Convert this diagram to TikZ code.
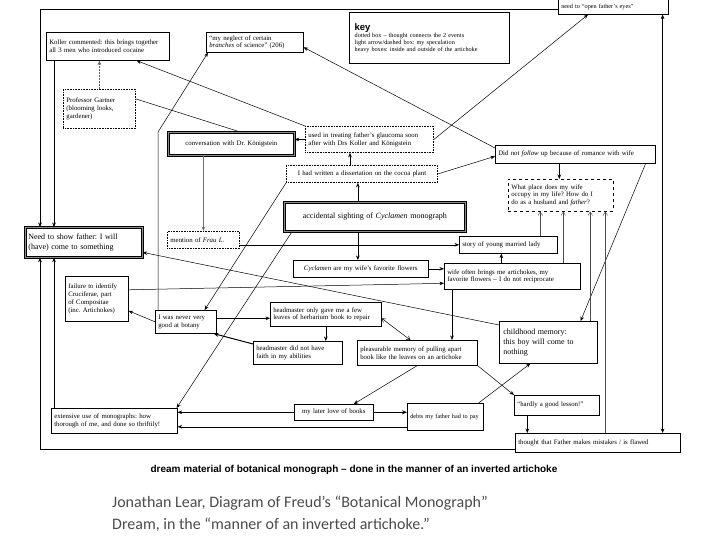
\documentclass[tikz,border=0pt]{standalone}
\usepackage{fontspec}
\setmainfont{Liberation Serif}
\newfontfamily\capfont{Carlito}
\newfontfamily\hsans{Liberation Sans}
\usetikzlibrary{arrows.meta}
\newcommand\fsm{\fontsize{6.8}{7.8}\selectfont}
\newcommand\fsn{\fontsize{6.2}{7.2}\selectfont}
\newcommand\fmd{\fontsize{8}{10}\selectfont}
\frenchspacing
\begin{document}
\begin{tikzpicture}[x=1pt,y=-1pt,
  bx/.style={draw, line width=0.6pt, inner xsep=3pt, inner ysep=1pt, anchor=north west, align=left, font=\fsm, text=black},
  dot/.style={bx, densely dotted, line width=0.9pt},
  dsh/.style={bx, dashed, line width=0.6pt},
  heavy/.style={bx, line width=0.7pt, double=black!45, double distance=1.3pt, align=center},
  sz/.style n args={3}{minimum width=#1pt, minimum height=#2pt, text width=#3pt},
  arr/.style={line width=0.5pt, -{Stealth[length=4.5pt,width=3.6pt]}},
  arrb/.style={line width=0.5pt, {Stealth[length=4.5pt,width=3.6pt]}-{Stealth[length=4.5pt,width=3.6pt]}},
  harr/.style={line width=1pt, -{Stealth[length=5pt,width=4pt]}},
  garr/.style={arr, draw=black!55},
  darr/.style={arr, densely dotted, draw=black!60},
  larr/.style={line width=0.4pt, draw=black!70, -{Straight Barb[length=3.5pt,width=4.5pt]}},
  larrb/.style={line width=0.5pt, {Straight Barb[length=3.5pt,width=4.5pt]}-{Straight Barb[length=3.5pt,width=4.5pt]}},
  plain/.style={line width=0.5pt}
]
\fill[white] (0,0) rectangle (720,540);
\useasboundingbox (0,0) rectangle (720,540);

% boxes
\node[bx, sz={110}{15}{104}, font=\fsn] (openEyes) at (558,-1) {need to “open father’s eyes”};
\node[bx, line width=1.3pt, sz={160}{51}{150}, inner xsep=5pt, font=\fsn] (key) at (349,12)
  {{\hsans\bfseries\fontsize{9.5}{11.5}\selectfont key}\\dotted box – thought connects the 2 events\\light arrow/dashed box: my speculation\\heavy boxes: inside and outside of the artichoke};
\node[bx, sz={123}{28}{117}] (koller) at (46,32) {Koller commented: this brings together\\all 3 men who introduced cocaine};
\node[bx, sz={97}{20}{91}] (neglect) at (206,32) {“my neglect of certain\\\textit{branches} of science” (206)};
\node[dot, sz={72}{39}{66}] (gartner) at (63,89) {Professor Gartner\\(blooming looks,\\gardener)};
\node[heavy, sz={126}{23}{120}] (konig) at (168,132) {conversation with Dr. Königstein};
\node[dot, sz={128}{26}{122}] (glaucoma) at (305,126) {used in treating father’s glaucoma soon\\after with Drs Koller and Königstein};
\node[dot, sz={151}{17}{145}, align=center] (dissert) at (286,165) {I had written a dissertation on the cocoa plant};
\node[heavy, sz={181}{29}{175}, font=\fmd] (accidental) at (284,202) {accidental sighting of \textit{Cyclamen} monograph};
\node[bx, sz={160}{18}{154}] (didnot) at (495,145) {Did not \textit{follow} up because of romance with wife};
\node[dsh, sz={105}{32}{99}] (whatplace) at (508,179) {What place does my wife\\occupy in my life? How do I\\do as a husband and \textit{father}?};
\node[heavy, sz={117}{30}{111}, align=left, font=\fmd] (needshow) at (25,227) {Need to show father: I will\\(have) come to something};
\node[dot, sz={72}{17}{66}] (frau) at (167,231) {mention of \textit{Frau L.}};
\node[bx, sz={98}{17}{92}] (story) at (459,236) {story of young married lady};
\node[bx, sz={135}{17}{129}, align=center] (cyclamen) at (293,260) {\textit{Cyclamen} are my wife’s favorite flowers};
\node[bx, sz={136}{26}{130}] (wifeoften) at (444,263) {wife often brings me artichokes, my\\favorite flowers – I do not reciprocate};
\node[bx, sz={63}{45}{57}] (failure) at (65,276) {failure to identify\\Cruciferae, part\\of Compositae\\(inc. Artichokes)};
\node[bx, sz={61}{23}{55}] (never) at (155,310) {I was never very\\good at botany};
\node[bx, sz={111}{24}{105}] (hmonly) at (270,302) {headmaster only gave me a few\\leaves of herbarium book to repair};
\node[bx, sz={89}{23}{83}] (hmnot) at (253,341) {headmaster did not have\\faith in my abilities};
\node[bx, sz={120}{25}{114}] (pleasur) at (357,340) {pleasurable memory of pulling apart\\book like the leaves on an artichoke};
\node[bx, sz={98}{42}{90}, inner xsep=4pt, font=\fmd] (childhood) at (499,321) {childhood memory:\\this boy will come to\\nothing};
\node[bx, sz={85}{20}{79}] (hardly) at (514,395) {“hardly a good lesson!”};
\node[bx, sz={165}{19}{159}] (thought) at (515,433) {thought that Father makes mistakes / is flawed};
\node[bx, sz={76}{27}{70}, font=\fsn] (debts) at (407,403) {debts my father had to pay};
\node[bx, sz={79}{16}{73}, align=center] (books) at (294,404) {my later love of books};
\node[bx, sz={126}{25}{120}] (extensive) at (51,408) {extensive use of monographs: how\\thorough of me, and done so thriftily!};

% captions
\node[font=\hsans\bfseries\fontsize{10}{12}\selectfont] (title) at (354,470) {dream material of botanical monograph – done in the manner of an inverted artichoke};
\node[font=\capfont\fontsize{16}{21.5}\selectfont, text=black!70, align=left, anchor=north west, inner sep=0pt] (caption) at (112,496) {Jonathan Lear, Diagram of Freud’s “Botanical Monograph”\\Dream, in the “manner of an inverted artichoke.”};

% connectors
\draw[arr] ([yshift=-2.5pt]openEyes.west) -| ([xshift=15pt]needshow.north west);
\draw[arr] ([yshift=3pt]thought.south west) -| ([xshift=15pt]needshow.south west);
\draw[arr] ([xshift=8pt]koller.south west) -- ([xshift=8pt]koller.south west |- needshow.north);
\draw[arr] ([xshift=3pt]extensive.north west) -- ([xshift=3pt]extensive.north west |- needshow.south);
\draw[darr] (gartner.north) -- (gartner.north |- koller.south);
\draw[plain] ([yshift=10pt]gartner.east) -- ([xshift=9pt]konig.north);
\draw[arr] (glaucoma.north west) -- ([xshift=-33pt]koller.south east);
\draw[arr] ([yshift=-3pt]didnot.north west) -- ([yshift=-5pt]neglect.east);
\draw[arr] (glaucoma.east) -- ([xshift=30pt]openEyes.south west);
\draw[arr] ([xshift=3pt]never.north west) -- ([xshift=3pt]never.north west |- konig.north) -- ([xshift=2pt]neglect.south west);
\draw[arr] (glaucoma.west) -- (glaucoma.west -| konig.east);
\draw[garr] (frau.north |- konig.south) -- (frau.north);
\draw[arr] ([xshift=-12pt]dissert.north) -- ([xshift=-12pt]dissert.north |- glaucoma.south);
\draw[arr] ([xshift=-17pt]accidental.north) -- ([xshift=-17pt]accidental.north |- dissert.south);
\draw[arr] ([xshift=-17pt]accidental.south) -- ([xshift=-17pt]accidental.south |- cyclamen.north);
\draw[arr] (dissert.east) -- ([yshift=-2pt]didnot.west);
\draw[arr] ([xshift=-16pt]didnot.south) -- ([xshift=-16pt]didnot.south |- whatplace.north);
\draw[arr] ([xshift=-10pt]didnot.south east) -- ([xshift=-17pt]childhood.north east);
\draw[arr] (dissert.south west) -- ([xshift=-12pt]never.north east);
\draw[arr] ([xshift=8pt]accidental.south west) -- ([xshift=-1pt]extensive.north east);
\draw[arr] (frau.east |- story.west) -- (story.west);
\draw[arr] (cyclamen.east) -- (cyclamen.east -| wifeoften.west);
\draw[arr] ([yshift=9pt]failure.east) -- ([yshift=-7pt]wifeoften.west);
\draw[arr] ([yshift=-4pt]childhood.north west) -- ([yshift=-10pt]needshow.east);
\draw[arr] (never.west) -- ([yshift=-12pt]failure.east);
\draw[arr] ([yshift=3.5pt]never.east) -- ([yshift=3.5pt]never.east -| hmonly.west);
\draw[harr] ([yshift=-3pt]hmnot.north west) -- ([xshift=-3pt]never.south east);
\draw[arr] ([xshift=28pt]hmnot.north |- hmonly.south) -- ([xshift=28pt]hmnot.north);
\draw[larrb] ([yshift=-4pt]hmonly.east) -- ([xshift=-7pt]pleasur.north);
\draw[arr] ([xshift=8pt]wifeoften.south west) -- ([xshift=8pt]wifeoften.south west |- pleasur.north);
\draw[arr] (pleasur.south) -- ([xshift=20pt]books.north);
\draw[arr] (pleasur.south east) -- (hardly.north west);
\draw[arr] ([xshift=-5pt]debts.north east) -- ([xshift=-18pt]childhood.south);
\draw[harr] (books.east) -- (books.east -| debts.west);
\draw[arr] (books.west) -- (books.west -| extensive.east);
\draw[arr] ([yshift=-10pt]debts.west) -- ([yshift=-10pt]debts.west -| extensive.east);
\draw[arr] ([xshift=-29.5pt]hardly.south) -- ([xshift=-29.5pt]hardly.south |- thought.north);
\draw[arrb] ([xshift=-18pt]thought.north east) -- ([xshift=-18pt]thought.north east |- openEyes.south);
\draw[arr] ([xshift=-11pt]wifeoften.north) -- ([xshift=-11pt]wifeoften.north |- story.south);
\draw[larr] ([xshift=32pt]story.north) -- ([xshift=32pt]story.north |- whatplace.south);
\draw[larr] ([xshift=51pt]wifeoften.north) -- ([xshift=51pt]wifeoften.north |- whatplace.south);
\draw[larr] ([xshift=42pt]childhood.north) -- ([xshift=42pt]childhood.north |- whatplace.south);
\draw[larr] ([xshift=7.5pt]thought.north) -- ([xshift=7.5pt]thought.north |- whatplace.south);
\end{tikzpicture}
\end{document}
